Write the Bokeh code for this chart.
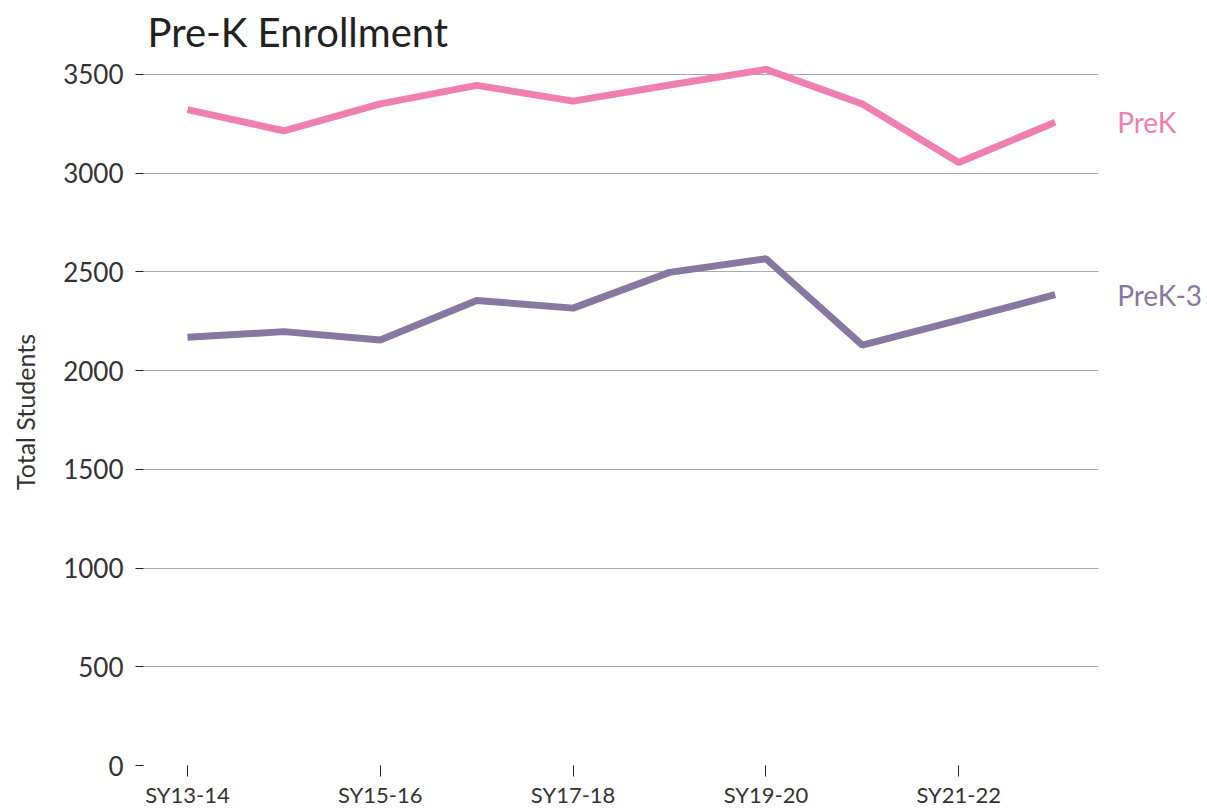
from bokeh.plotting import figure
from bokeh.models import Range1d, FixedTicker, Label
from bokeh.embed import file_html
from bokeh.resources import INLINE

categories = ["SY13-14", "SY14-15", "SY15-16", "SY16-17", "SY17-18",
              "SY18-19", "SY19-20", "SY20-21", "SY21-22", "SY22-23"]
prek = [3321, 3214, 3350, 3444, 3364, 3446, 3525, 3350, 3053, 3257]
prek3 = [2168, 2197, 2155, 2355, 2316, 2497, 2566, 2129, 2255, 2384]
y_ticks = [0, 500, 1000, 1500, 2000, 2500, 3000, 3500]
x_tick_idx = [0, 2, 4, 6, 8]

FONT = "Lato"
PINK = "#ef7fb1"
PURPLE = "#8877a0"

xs = list(range(len(categories)))
X_START, X_GRID_END, X_END = -0.456, 9.45, 10.58

p = figure(width=1207, height=810, output_backend="svg", toolbar_location=None,
           x_range=Range1d(X_START, X_END), y_range=Range1d(0, 3580),
           min_border_left=143, min_border_right=0, min_border_top=58,
           min_border_bottom=44)

p.title.text = "Pre-K Enrollment"
p.title.text_font = FONT
p.title.text_font_size = "40px"
p.title.text_font_style = "normal"
p.title.text_color = "#222222"
p.title.offset = 4
p.title.standoff = 6

p.outline_line_color = None
p.background_fill_color = "white"
p.border_fill_color = "white"

p.line(xs, prek, line_color=PINK, line_width=7)
p.line(xs, prek3, line_color=PURPLE, line_width=7)

# axes
p.yaxis.ticker = FixedTicker(ticks=y_ticks)
p.yaxis.axis_line_color = None
p.yaxis.major_tick_in = 0
p.yaxis.major_tick_out = 8
p.yaxis.major_tick_line_color = "#222222"
p.yaxis.minor_tick_line_color = None
p.yaxis.major_label_standoff = 12
p.yaxis.major_label_text_font = FONT
p.yaxis.major_label_text_font_size = "26px"
p.yaxis.major_label_text_color = "#333333"
p.yaxis.axis_label = "Total Students"
p.yaxis.axis_label_text_font = FONT
p.yaxis.axis_label_text_font_size = "25px"
p.yaxis.axis_label_text_font_style = "normal"
p.yaxis.axis_label_text_color = "#333333"
p.yaxis.axis_label_standoff = 20

p.xaxis.ticker = FixedTicker(ticks=x_tick_idx)
p.xaxis.major_label_overrides = {i: categories[i] for i in x_tick_idx}
p.xaxis.axis_line_color = None
p.xaxis.major_tick_in = 0
p.xaxis.major_tick_out = 11
p.xaxis.major_tick_line_color = "#222222"
p.xaxis.minor_tick_line_color = None
p.xaxis.major_label_standoff = 4
p.xaxis.major_label_text_font = FONT
p.xaxis.major_label_text_font_size = "22px"
p.xaxis.major_label_text_color = "#333333"

p.xgrid.grid_line_color = None
p.ygrid.ticker = FixedTicker(ticks=y_ticks)
p.ygrid.grid_line_color = "#aaaaaa"
p.ygrid.grid_line_width = 1
p.ygrid.cross_bounds = (X_START, X_GRID_END)

# end labels
for name, vals, col in [("PreK", prek, PINK), ("PreK-3", prek3, PURPLE)]:
    p.add_layout(Label(x=xs[-1], y=vals[-1], x_offset=62, text=name,
                       text_font=FONT, text_font_size="28px",
                       text_color=col, text_baseline="middle"))

open("out.html", "w").write(file_html(p, INLINE))
